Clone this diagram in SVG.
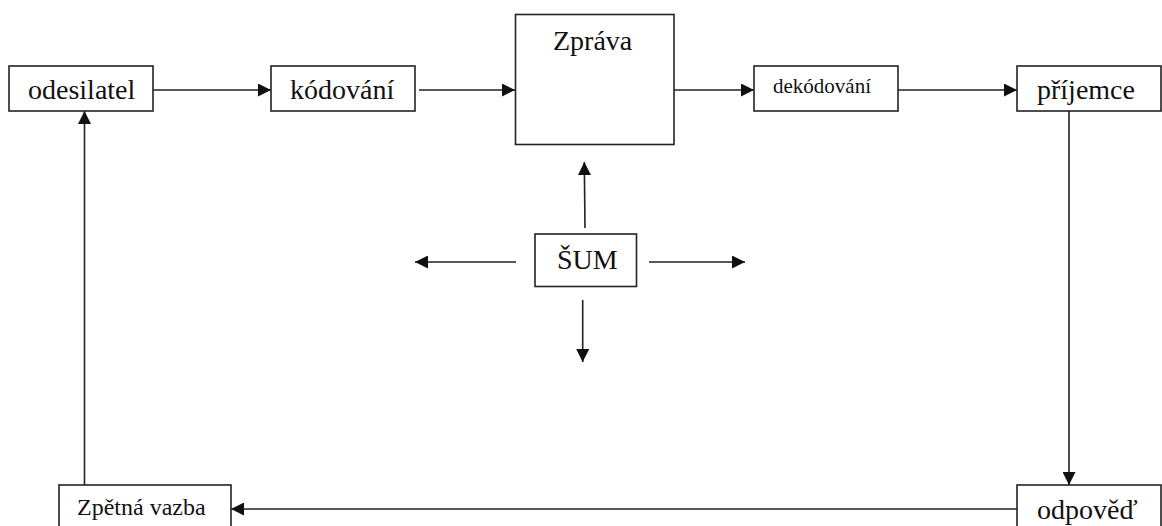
<svg xmlns="http://www.w3.org/2000/svg" width="1162" height="526" viewBox="0 0 1162 526">
<style>
.box{fill:#fff;stroke:#222;stroke-width:1.6}
.t{font-family:"Liberation Serif","Times New Roman",serif;fill:#111}
.c{fill:none;stroke:#222;stroke-width:1.6}
</style>
<defs>
<marker id="ah" markerUnits="userSpaceOnUse" markerWidth="14" markerHeight="13" refX="13" refY="6.5" orient="auto" viewBox="0 0 14 13">
<path d="M0,0 L13,6.5 L0,13 z" fill="#111"/>
</marker>
</defs>
<rect width="1162" height="526" fill="#fff"/>
<g id="connectors">
<line class="c" x1="153" y1="90" x2="271" y2="90" marker-end="url(#ah)"/>
<line class="c" x1="419" y1="90" x2="515" y2="90" marker-end="url(#ah)"/>
<line class="c" x1="674" y1="90" x2="754" y2="90" marker-end="url(#ah)"/>
<line class="c" x1="898" y1="90" x2="1017" y2="90" marker-end="url(#ah)"/>
<line class="c" x1="1069" y1="111" x2="1069" y2="485" marker-end="url(#ah)"/>
<line class="c" x1="1017" y1="509" x2="231" y2="509" marker-end="url(#ah)"/>
<line class="c" x1="84.5" y1="485" x2="84.5" y2="111" marker-end="url(#ah)"/>
<line class="c" x1="585" y1="228" x2="584.3" y2="162" marker-end="url(#ah)"/>
<line class="c" x1="516" y1="262" x2="415" y2="262" marker-end="url(#ah)"/>
<line class="c" x1="649" y1="262" x2="745" y2="262" marker-end="url(#ah)"/>
<line class="c" x1="582.7" y1="300" x2="582.7" y2="362" marker-end="url(#ah)"/>
</g>
<g id="odesilatel">
<rect class="box" x="9" y="66" width="144" height="45"/>
<text class="t" x="28" y="99" font-size="28">odesilatel</text>
</g>
<g id="kodovani">
<rect class="box" x="271" y="66" width="144" height="45"/>
<text class="t" x="290" y="99" font-size="28">kódování</text>
</g>
<g id="zprava">
<rect class="box" x="515.5" y="14.5" width="158.5" height="130"/>
<text class="t" x="553" y="50" font-size="28">Zpráva</text>
</g>
<g id="dekodovani">
<rect class="box" x="754" y="66" width="144" height="45"/>
<text class="t" x="773" y="93" font-size="21">dekódování</text>
</g>
<g id="prijemce">
<rect class="box" x="1017" y="66" width="144" height="45"/>
<text class="t" x="1037" y="99" font-size="28">příjemce</text>
</g>
<g id="sum">
<rect class="box" x="535" y="234" width="101.5" height="52.5"/>
<text class="t" x="557" y="269" font-size="28">ŠUM</text>
</g>
<g id="odpoved">
<rect class="box" x="1017" y="485" width="144" height="60"/>
<text class="t" x="1037" y="519" font-size="28">odpověď</text>
</g>
<g id="zpetna-vazba">
<rect class="box" x="59" y="485" width="172" height="60"/>
<text class="t" x="77" y="515" font-size="24">Zpětná vazba</text>
</g>
</svg>
